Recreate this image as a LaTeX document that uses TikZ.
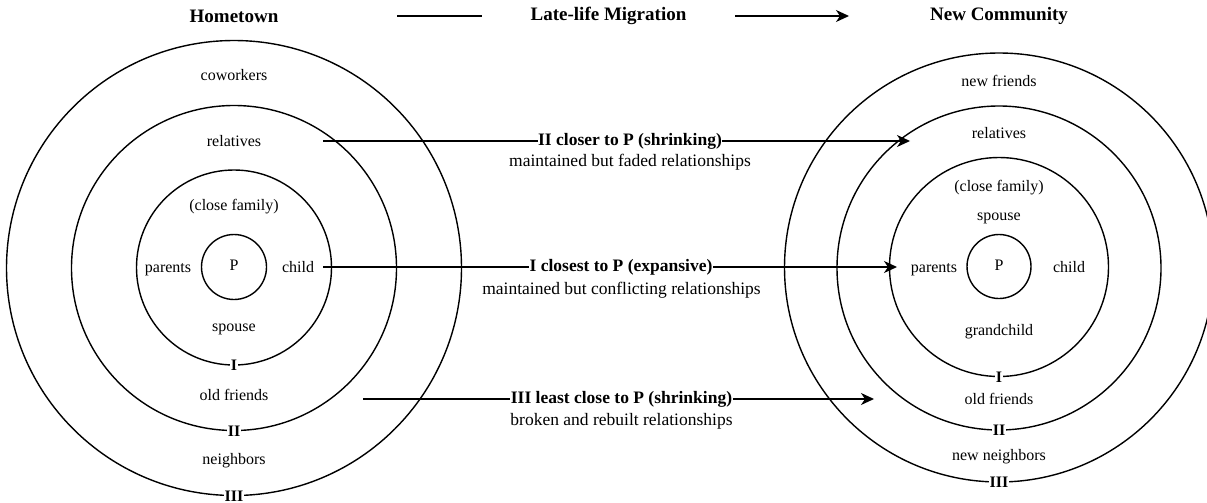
\documentclass[tikz,border=0pt]{standalone}
\usepackage{fontspec}
\setmainfont{Liberation Serif}
\usetikzlibrary{arrows.meta}

\begin{document}
\begin{tikzpicture}[x=1pt,y=-1pt,line width=1.4pt,
  >={Stealth[length=13pt,width=12pt,inset=4pt]},
  ring/.style={shape=circle, draw, inner sep=0pt},
  lbl/.style={font=\fontsize{16}{19}\selectfont, text height=11pt, text depth=3.5pt, inner sep=1pt},
  ringno/.style={font=\fontsize{16}{19}\selectfont\bfseries, fill=white, inner sep=0.6pt},
  title/.style={font=\fontsize{19}{23}\selectfont\bfseries},
  edgelbl/.style={font=\fontsize{17.5}{21}\selectfont\bfseries, text height=12pt, text depth=4pt, fill=white, inner sep=0.6pt},
  edgesub/.style={font=\fontsize{17.5}{21}\selectfont, text height=12pt, text depth=4pt, inner sep=1pt}]

\useasboundingbox (0,0) rectangle (1207,503);

% titles
\path (234,16) node (home) [title] {Hometown};
\path (999,16) node (newc) [title] {New Community};
\path (608.5,16) node (migr) [title, inner xsep=48pt] {Late-life Migration};
\coordinate (mstart) at (397,16);
\coordinate (mend) at (849,16);
\draw (mstart) to (migr.west);
\draw [->] (migr.east) to (mend);

% hometown
\path (234,268) node (H3) [ring, minimum size=455pt] {};
\path (234,268) node (H2) [ring, minimum size=325pt] {};
\path (234,267.5) node (H1) [ring, minimum size=195pt] {};
\path (234,267) node (HP) [ring, minimum size=65pt, lbl] {P};

\path (234,77) node (Hcow) [lbl] {coworkers};
\path (234,143) node (Hrel) [lbl] {relatives};
\path (234,207) node (Hfam) [lbl] {(close family)};
\path (168,269) node (Hpar) [lbl] {parents};
\path (298,269) node (Hchi) [lbl] {child};
\path (234,328) node (Hspo) [lbl] {spouse};
\path (234,397) node (Hold) [lbl] {old friends};
\path (234,461) node (Hnei) [lbl] {neighbors};
\path (H1.south) node (H1no) [ringno] {I};
\path (H2.south) node (H2no) [ringno] {II};
\path (H3.south) node (H3no) [ringno] {III};

% new community
\path (999,267.5) node (N3) [ring, minimum size=429pt] {};
\path (999,268) node (N2) [ring, minimum size=324pt] {};
\path (999,267) node (N1) [ring, minimum size=219pt] {};
\path (999,266.5) node (NP) [ring, minimum size=64pt, lbl] {P};

\path (999,83) node (Nfri) [lbl] {new friends};
\path (999,135) node (Nrel) [lbl] {relatives};
\path (999,188) node (Nfam) [lbl] {(close family)};
\path (999,217) node (Nspo) [lbl] {spouse};
\path (934,269) node (Npar) [lbl] {parents};
\path (1069,269) node (Nchi) [lbl] {child};
\path (999,332) node (Ngra) [lbl] {grandchild};
\path (999,401) node (Nold) [lbl] {old friends};
\path (999,457) node (Nnei) [lbl] {new neighbors};
\path (N1.south) node (N1no) [ringno] {I};
\path (N2.south) node (N2no) [ringno] {II};
\path (N3.south) node (N3no) [ringno] {III};

% migration arrows
\coordinate (IIfrom) at (323,141);
\coordinate (IIto) at (910,141);
\coordinate (Ifrom) at (323,267);
\coordinate (Ito) at (897,267);
\coordinate (IIIfrom) at (363,399);
\coordinate (IIIto) at (874,399);

\draw [->] (IIfrom) to (IIto);
\draw [->] (Ifrom) to (Ito);
\draw [->] (IIIfrom) to (IIIto);

\path (630,141) node (IIlab) [edgelbl] {II closer to P (shrinking)};
\path (630,162) node (IIsub) [edgesub] {maintained but faded relationships};
\path (621,267) node (Ilab) [edgelbl] {I closest to P (expansive)};
\path (621.5,290.5) node (Isub) [edgesub] {maintained but conflicting relationships};
\path (621.5,399) node (IIIlab) [edgelbl] {III least close to P (shrinking)};
\path (621.5,421.5) node (IIIsub) [edgesub] {broken and rebuilt relationships};

\end{tikzpicture}
\end{document}
